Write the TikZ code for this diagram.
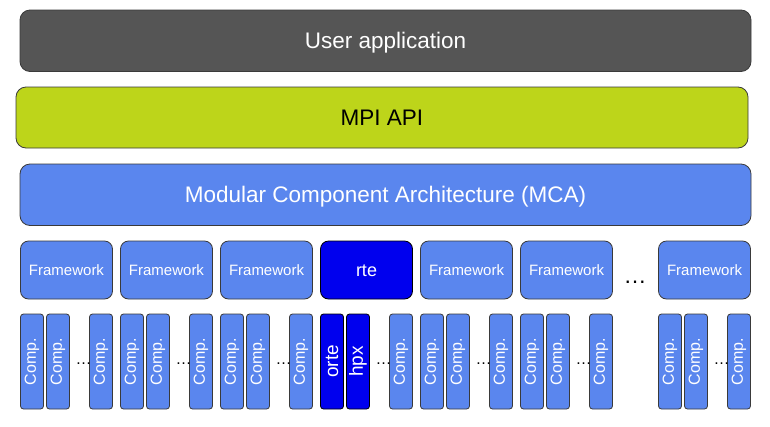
\documentclass[tikz,border=0pt]{standalone}
\usepackage{fontspec}
\setmainfont{Liberation Sans}
\definecolor{ugrey}{HTML}{555555}
\definecolor{mgreen}{HTML}{BDD51A}
\definecolor{mblue}{HTML}{5A86EE}
\definecolor{rblue}{HTML}{0000EE}
\definecolor{edge}{HTML}{3A3A3A}
\tikzset{
  bar/.style={draw=edge, line width=0.8pt, rounded corners=10pt, inner sep=0pt,
    minimum height=61.5pt, text=white, text height=16pt, text depth=0pt,
    font=\fontsize{22.5}{24}\selectfont},
  fwbox/.style={draw=edge, line width=0.8pt, rounded corners=8pt, fill=mblue, inner sep=0pt,
    minimum width=92pt, minimum height=58pt, text=white, text height=10.5pt, text depth=0pt,
    font=\fontsize{15}{17}\selectfont},
  compbox/.style={draw=edge, line width=0.8pt, rounded corners=3pt, fill=mblue, inner sep=0pt,
    minimum width=23pt, minimum height=95pt},
  comptext/.style={text=white, rotate=90, inner sep=0pt, font=\fontsize{16}{18}\selectfont},
  smalldots/.style={inner sep=0pt, font=\fontsize{16}{18}\selectfont},
  bigdots/.style={inner sep=0pt, font=\fontsize{23}{25}\selectfont},
}
\begin{document}
\begin{tikzpicture}[x=1pt,y=-1pt]
\useasboundingbox (0,0) rectangle (770,426);
\node[bar, fill=ugrey, minimum width=731pt] (user) at (385.5,40.75) {User application};
\node[bar, fill=mgreen, text=black, minimum width=732pt, minimum height=61pt] (mpi) at (382,117.5) {MPI API};
\node[bar, fill=mblue, minimum width=731pt] (mca) at (385.5,194.75) {Modular Component Architecture (MCA)};
% frameworks and components
\foreach \x/\n in {20.5/a,120.5/b,220.5/c,420.5/e,520.5/f,658.5/g}{
  \node[fwbox] (fw\n) at (\x+46,270) {Framework};
  \node[compbox] (c\n1) at (\x+11.5,361.5) {};
  \node[compbox] (c\n2) at (\x+37.5,361.5) {};
  \node[compbox] (c\n3) at (\x+80.5,361.5) {};
  \node[comptext] at (c\n1) {Comp.};
  \node[comptext] at (c\n2) {Comp.};
  \node[comptext] at (c\n3) {Comp.};
  \node[smalldots] (d\n) at (\x+63,364) {…};
}
% rte group
\node[fwbox, fill=rblue, draw=black, text height=12pt, font=\fontsize{18}{20}\selectfont] (fwd) at (366.5,270) {rte};
\node[compbox, fill=rblue, draw=black] (cd1) at (332,361.5) {};
\node[compbox, fill=rblue, draw=black] (cd2) at (358,361.5) {};
\node[compbox] (cd3) at (401,361.5) {};
\node[comptext, font=\fontsize{19}{21}\selectfont] at (cd1) {orte};
\node[comptext, font=\fontsize{19}{21}\selectfont] at (cd2) {hpx};
\node[comptext] at (cd3) {Comp.};
\node[smalldots] (dd) at (383.5,364) {…};
\node[bigdots] (fwdots) at (635,282) {…};
\end{tikzpicture}
\end{document}
